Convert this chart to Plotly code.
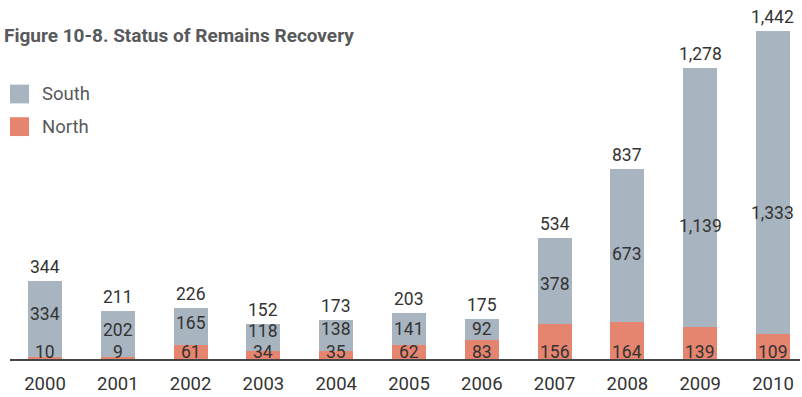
import plotly.graph_objects as go

# Remains recovered per year, split by region
years = [2000, 2001, 2002, 2003, 2004, 2005, 2006, 2007, 2008, 2009, 2010]
north = [10, 9, 61, 34, 35, 62, 83, 156, 164, 139, 109]
south = [334, 202, 165, 118, 138, 141, 92, 378, 673, 1139, 1333]
totals = [n + s for n, s in zip(north, south)]

SOUTH_COLOR = "#a8b4bf"
NORTH_COLOR = "#e5846f"
TEXT_COLOR = "#333333"
MUTED_TEXT = "#58595b"
LABEL_FONT = "Roboto"

# where the South value sits inside its segment (0 = bottom, 1 = top)
south_label_frac = [0.56, 0.58, 0.6, 0.74, 0.7, 0.5, 0.55, 0.46, 0.44, 0.39, 0.40]
north_label_y = 32

fig = go.Figure()
fig.add_trace(go.Bar(x=years, y=north, name="North", marker_color=NORTH_COLOR,
                     marker_line_width=0, width=0.467, showlegend=False,
                     hoverinfo="x+y+name"))
fig.add_trace(go.Bar(x=years, y=south, name="South", marker_color=SOUTH_COLOR,
                     marker_line_width=0, width=0.467, showlegend=False,
                     hoverinfo="x+y+name"))

num_font = dict(family=LABEL_FONT, size=17.5, color=TEXT_COLOR)
annotations = []
for yr, n, s, t, f in zip(years, north, south, totals, south_label_frac):
    annotations.append(dict(x=yr, y=t, text=f"{t:,}", showarrow=False,
                            yanchor="bottom", xanchor="center", yshift=2,
                            font=num_font))
    annotations.append(dict(x=yr, y=n + s * f, text=f"{s:,}", showarrow=False,
                            yanchor="middle", xanchor="center", font=num_font))
    annotations.append(dict(x=yr, y=north_label_y, text=f"{n:,}", showarrow=False,
                            yanchor="middle", xanchor="center", font=num_font))

# title
annotations.append(dict(xref="paper", yref="paper", x=-0.0101, y=1.0, xanchor="left",
                        yanchor="middle", yshift=-27,
                        text="<b>Figure 10-8. Status of Remains Recovery</b>",
                        showarrow=False,
                        font=dict(family=LABEL_FONT, size=19, color=MUTED_TEXT)))

# legend: colour swatches with labels
legend_items = [("South", SOUTH_COLOR, 95), ("North", NORTH_COLOR, 128)]
shapes = []
for label, color, cy in legend_items:
    shapes.append(dict(type="rect", xref="paper", yref="paper",
                       x0=0, x1=19 / 790, y0=1 - (cy + 9.5 - 8) / 355,
                       y1=1 - (cy - 9.5 - 8) / 355,
                       fillcolor=color, line=dict(width=0), layer="above"))
    annotations.append(dict(xref="paper", yref="paper", x=30 / 790,
                            y=1 - (cy - 8) / 355, xanchor="left", yanchor="middle",
                            text=label, showarrow=False,
                            font=dict(family=LABEL_FONT, size=18.5, color=MUTED_TEXT)))

fig.update_layout(
    barmode="stack",
    width=802, height=397,
    margin=dict(l=10, r=2, t=8, b=34),
    paper_bgcolor="white", plot_bgcolor="white",
    bargap=0,
    annotations=annotations,
    shapes=shapes,
    xaxis=dict(range=[1999.519, 2010.371], tickmode="array", tickvals=years,
               ticktext=[str(y) for y in years], showgrid=False, zeroline=False,
               showline=True, linecolor="#444444", linewidth=1.5, ticks="",
               ticklabelstandoff=7,
               tickfont=dict(family=LABEL_FONT, size=18.5, color=TEXT_COLOR),
               fixedrange=True),
    yaxis=dict(range=[0, 1543], visible=False, showgrid=False, zeroline=False,
               fixedrange=True),
)

fig.write_html("out.html")
